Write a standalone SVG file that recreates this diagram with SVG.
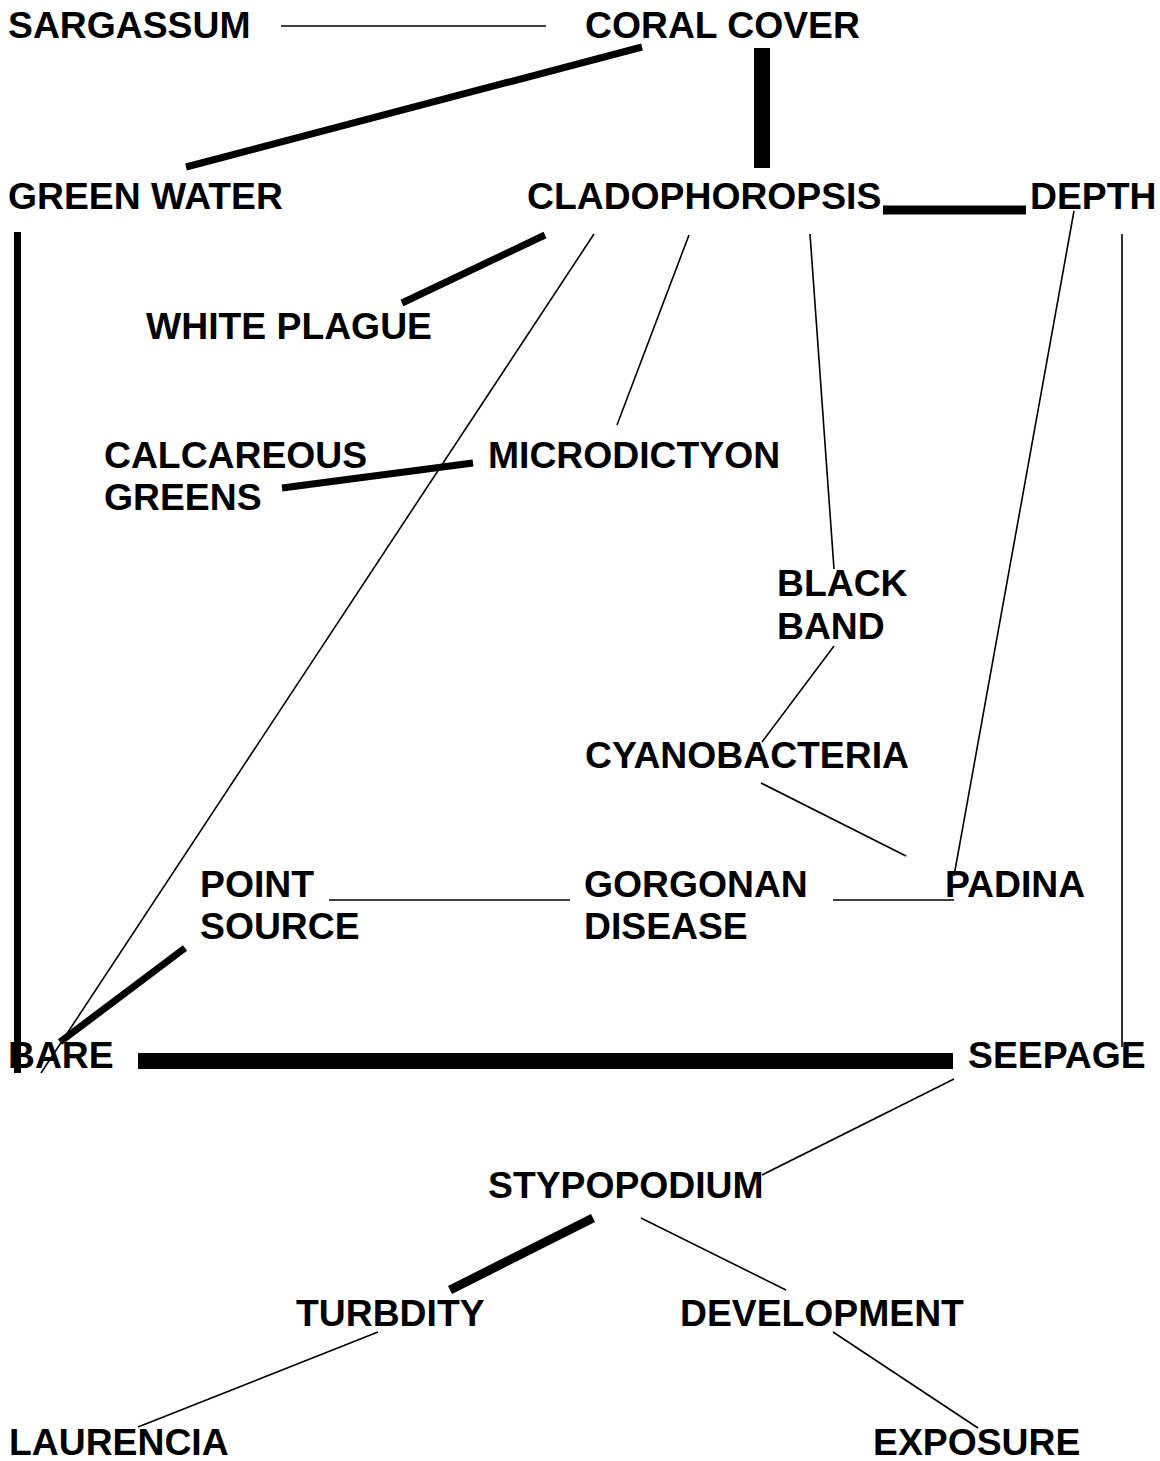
<svg xmlns="http://www.w3.org/2000/svg" width="1160" height="1461" viewBox="0 0 1160 1461">
<style>
text{font-family:"Liberation Sans",Arial,sans-serif;font-weight:bold;font-size:37.3px;fill:#000}
.t{stroke:#000;stroke-width:1.6;fill:none}
.m{stroke:#000;stroke-width:7;fill:none}
.k{stroke:#000;stroke-width:9;fill:none}
.w{stroke:#000;stroke-width:16;fill:none}
</style>
<rect width="1160" height="1461" fill="#fff"/>
<g id="connectors">
<line class="t" x1="281" y1="26" x2="546" y2="26"/>
<line class="m" x1="642" y1="47" x2="186" y2="167"/>
<line class="w" x1="762" y1="48" x2="762" y2="168"/>
<line class="k" x1="883" y1="210" x2="1026" y2="210"/>
<line class="m" x1="17.5" y1="232" x2="17.5" y2="1073"/>
<line class="m" x1="545" y1="235" x2="402" y2="303"/>
<line class="t" x1="594" y1="234" x2="41" y2="1073"/>
<line class="t" x1="689" y1="235" x2="617" y2="425"/>
<line class="t" x1="810" y1="234" x2="834" y2="569"/>
<line class="t" x1="1074" y1="211" x2="954" y2="876"/>
<line class="t" x1="1122" y1="234" x2="1122" y2="1047"/>
<line class="m" x1="473" y1="463" x2="282" y2="488"/>
<line class="t" x1="834" y1="646" x2="762" y2="742"/>
<line class="t" x1="761" y1="783" x2="906" y2="856"/>
<line class="t" x1="329" y1="900" x2="570" y2="900"/>
<line class="t" x1="833" y1="900" x2="954" y2="900"/>
<line class="m" x1="185" y1="948" x2="60" y2="1042"/>
<line class="w" x1="138" y1="1061" x2="953" y2="1061"/>
<line class="t" x1="954" y1="1079" x2="762" y2="1175"/>
<line class="k" x1="593" y1="1218" x2="450" y2="1290"/>
<line class="t" x1="641" y1="1218" x2="786" y2="1290"/>
<line class="t" x1="378" y1="1332" x2="138" y2="1427"/>
<line class="t" x1="833" y1="1332" x2="978" y2="1428"/>
</g>
<g id="sargassum"><text x="8" y="38">SARGASSUM</text></g>
<g id="coral-cover"><text x="585" y="38">CORAL COVER</text></g>
<g id="green-water"><text x="8" y="209">GREEN WATER</text></g>
<g id="cladophoropsis"><text x="527" y="209">CLADOPHOROPSIS</text></g>
<g id="depth"><text x="1030" y="209">DEPTH</text></g>
<g id="white-plague"><text x="146" y="339">WHITE PLAGUE</text></g>
<g id="calcareous-greens"><text x="104" y="468">CALCAREOUS</text><text x="104" y="510">GREENS</text></g>
<g id="microdictyon"><text x="488" y="468">MICRODICTYON</text></g>
<g id="black-band"><text x="777" y="596">BLACK</text><text x="777" y="639">BAND</text></g>
<g id="cyanobacteria"><text x="585" y="768">CYANOBACTERIA</text></g>
<g id="point-source"><text x="200" y="897">POINT</text><text x="200" y="939">SOURCE</text></g>
<g id="gorgonan-disease"><text x="584" y="897">GORGONAN</text><text x="584" y="939">DISEASE</text></g>
<g id="padina"><text x="945" y="897">PADINA</text></g>
<g id="bare"><text x="8" y="1068">BARE</text></g>
<g id="seepage"><text x="968" y="1068">SEEPAGE</text></g>
<g id="stypopodium"><text x="488" y="1198">STYPOPODIUM</text></g>
<g id="turbdity"><text x="296" y="1326">TURBDITY</text></g>
<g id="development"><text x="680" y="1326">DEVELOPMENT</text></g>
<g id="laurencia"><text x="9" y="1455">LAURENCIA</text></g>
<g id="exposure"><text x="873" y="1455">EXPOSURE</text></g>
</svg>
